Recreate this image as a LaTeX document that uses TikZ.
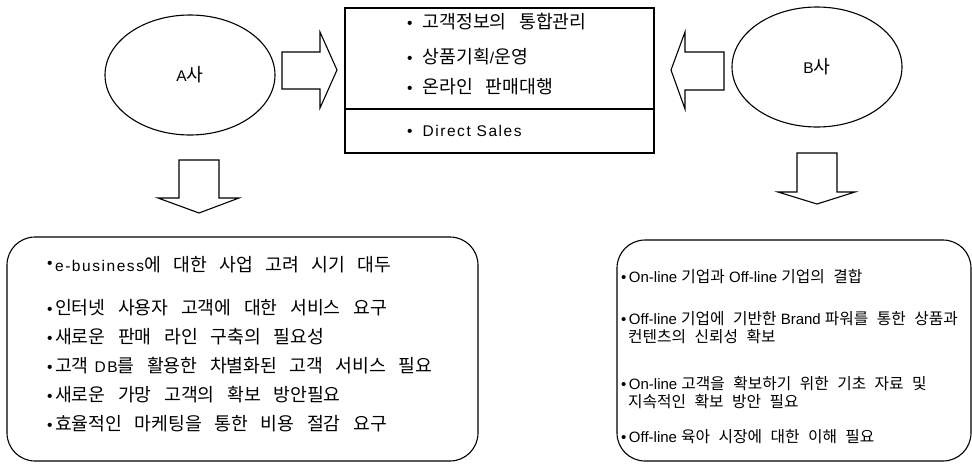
\documentclass[tikz,border=0pt]{standalone}
\usepackage{fontspec}
\setmainfont{Liberation Sans}
\newfontfamily\krL{Noto Sans CJK KR}[Scale=1.18,WordSpace=3.05]
\newfontfamily\krR{Noto Sans CJK KR}[Scale=1.05,WordSpace=2.4]
\newfontfamily\las{Liberation Sans}[LetterSpace=10]
\newfontfamily\lan{Liberation Sans}
\let\kfont\krL
\newcommand\K[1]{{\kfont #1}}
\newcommand\bm{\textbullet\hspace{10pt}}
\newcommand\bb{\textbullet\hspace{2.5pt}}
\usetikzlibrary{shapes.geometric}
\begin{document}
\begin{tikzpicture}[x=1pt,y=-1pt,
  every node/.style={font=\let\kfont\krL\lan\fontsize{15.5}{18}\selectfont},
  spaced/.style={font=\let\kfont\krL\las\fontsize{15.5}{18}\selectfont},
  tight/.style={font=\let\kfont\krR\lan\fontsize{15}{18}\selectfont},
  shape line/.style={draw=black,line width=1.1pt,line join=miter},
  oval/.style={shape line,ellipse,minimum width=170pt,minimum height=120pt,inner sep=0pt},
  txt/.style={anchor=base west,inner sep=0pt},
  roundbox/.style={shape line,rounded corners=28pt}]
\useasboundingbox (0,0) rectangle (972,464);
\fill[white] (0,0) rectangle (972,464);
% ellipses
\node[oval] (A) at (190,75) {A\K{사}};
\node[oval] (B) at (817,67) {B\K{사}};
% middle box
\node[shape line,rectangle,minimum width=309pt,minimum height=145pt,inner sep=0pt] (M) at (499.5,80.5) {};
\coordinate (dl) at (345,109);
\coordinate (dr) at (654,109);
\draw[shape line] (dl) -- (dr);
\node[txt,spaced] (m1) at (407,28) {\bm\K{고객정보의 통합관리}};
\node[txt,spaced] (m2) at (407,63) {\bm\K{상품기획}/\K{운영}};
\node[txt,spaced] (m3) at (407,93) {\bm\K{온라인 판매대행}};
\node[txt,spaced] (m4) at (407,136) {\bm Direct Sales};
% block arrows
\draw[shape line] (282,52) -- (320,52) -- (320,32) -- (337,70) -- (320,108) -- (320,89) -- (282,89) -- cycle;
\draw[shape line] (724,52) -- (685,52) -- (685,32) -- (671,70) -- (685,109) -- (685,90) -- (724,90) -- cycle;
\draw[shape line] (179,160) -- (219,160) -- (219,198) -- (239,198) -- (199,213) -- (158,198) -- (179,198) -- cycle;
\draw[shape line] (797,153) -- (837,153) -- (837,192) -- (855,192) -- (817,204) -- (778,192) -- (797,192) -- cycle;
% lower boxes
\draw[roundbox] (7,237) rectangle (478,461);
\draw[roundbox] (617,240) rectangle (971,461);
% left box text
\node[txt,spaced] (l1) at (47,271) {\raisebox{3pt}{\textbullet}\hspace{2.5pt}e-business\K{에 대한 사업 고려 시기 대두}};
\node[txt,spaced] (l2) at (47,314) {\bb\K{인터넷 사용자 고객에 대한 서비스 요구}};
\node[txt,spaced] (l3) at (47,343) {\bb\K{새로운 판매 라인 구축의 필요성}};
\node[txt,spaced] (l4) at (47,372) {\bb\K{고객} DB\K{를 활용한 차별화된 고객 서비스 필요}};
\node[txt,spaced] (l5) at (47,401) {\bb\K{새로운 가망 고객의 확보 방안필요}};
\node[txt,spaced] (l6) at (47,430) {\bb\K{효율적인 마케팅을 통한 비용 절감 요구}};
% right box text
\node[txt,tight] (r1) at (621,282) {\bb On-line \K{기업과} Off-line \K{기업의 결합}};
\node[txt,tight] (r2) at (621,324) {\bb Off-line \K{기업에 기반한} Brand \K{파워를 통한 상품과}};
\node[txt,tight] (r2b) at (628,342) {\K{컨텐츠의 신뢰성 확보}};
\node[txt,tight] (r3) at (621,389) {\bb On-line \K{고객을 확보하기 위한 기초 자료 및}};
\node[txt,tight] (r3b) at (628,407) {\K{지속적인 확보 방안 필요}};
\node[txt,tight] (r4) at (621,442) {\bb Off-line \K{육아 시장에 대한 이해 필요}};
\end{tikzpicture}
\end{document}
